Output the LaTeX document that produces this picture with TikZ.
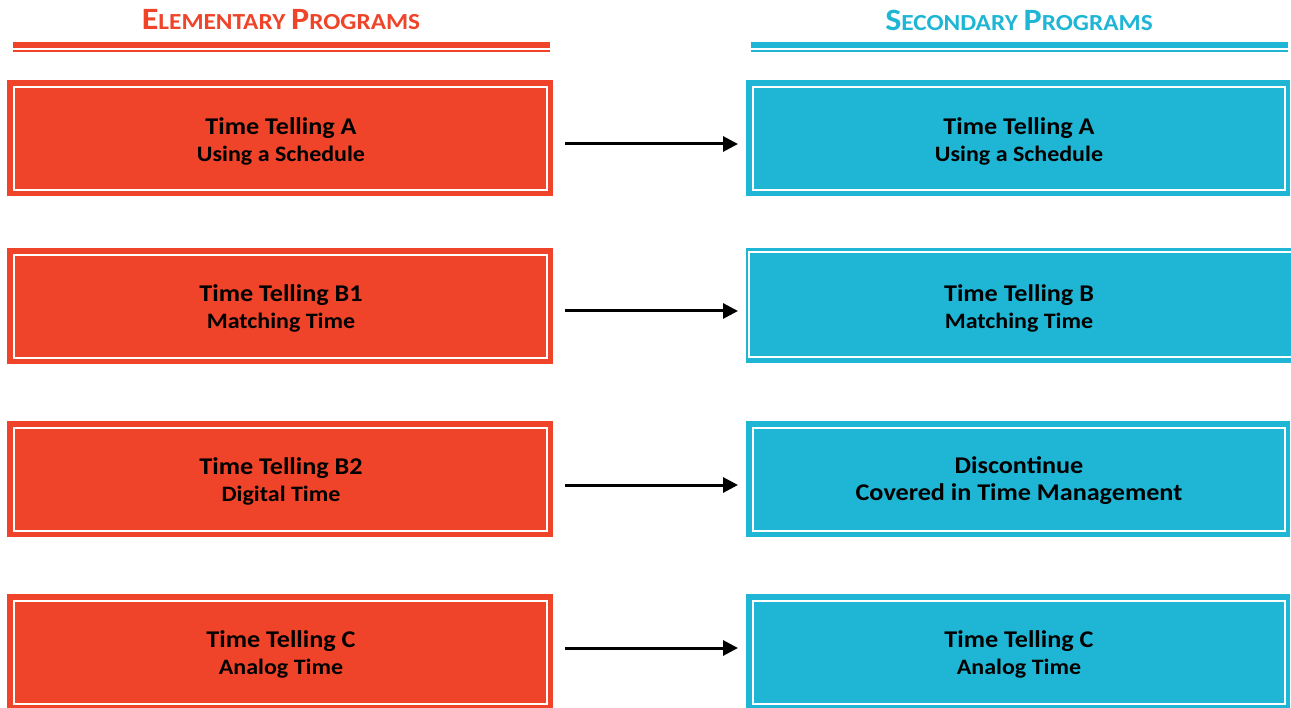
\documentclass[tikz,border=0pt]{standalone}
\usepackage{fontspec}
\setmainfont{Carlito}
\usetikzlibrary{arrows.meta}
\definecolor{elred}{HTML}{EF4429}
\definecolor{secblue}{HTML}{1FB6D6}
\tikzset{
  redbox/.style={fill=elred, draw=none},
  bluebox/.style={fill=secblue, draw=none},
  inner/.style={draw=white, line width=1.6pt},
  lbl/.style={align=center, font=\bfseries\fontsize{24}{27}\selectfont, text=black, inner sep=0pt},
  conn/.style={line width=3pt, -{Triangle[length=15pt,width=15pt]}},
  ttl/.style={font=\bfseries, inner sep=0pt},
}
\newcommand{\ta}[1]{\scalebox{1.09}[1]{\fontsize{24}{27}\selectfont #1}}
\newcommand{\tb}[1]{\scalebox{1.09}[1]{\fontsize{22}{27}\selectfont #1}}
\newcommand{\bigc}[1]{{\fontsize{31}{31}\selectfont #1}}
\newcommand{\smc}[1]{{\fontsize{23}{31}\selectfont #1}}
\newcommand{\ttlx}[1]{\scalebox{1.1}[1]{#1}}
\begin{document}
\begin{tikzpicture}[x=1pt,y=-1pt]
\useasboundingbox (0,0) rectangle (1291,708);
% titles
\node[ttl, text=elred] (tl) at (281,20) {\ttlx{\bigc{E}\smc{LEMENTARY }\bigc{P}\smc{ROGRAMS}}};
\node[ttl, text=secblue] (tr) at (1019,20) {\ttlx{\bigc{S}\smc{ECONDARY }\bigc{P}\smc{ROGRAMS}}};
\fill[elred] (13,42) rectangle (550,48);
\fill[elred] (13,50.5) rectangle (550,52.5);
\fill[secblue] (751,42) rectangle (1288,48);
\fill[secblue] (751,50.5) rectangle (1288,52.5);
% left boxes
\foreach \t/\n in {80/1,248/2,421/3,594/4}{
  \fill[redbox] (7,\t) rectangle (553,\t+116);
  \draw[inner] (14,\t+7) rectangle (547,\t+110);
}
% right boxes
\foreach \t/\n in {80/1,421/3,594/4}{
  \fill[bluebox] (746,\t) rectangle (1290,\t+116);
  \draw[inner] (753,\t+7) rectangle (1285,\t+110);
}
\fill[bluebox] (746,248) rectangle (1297,363);
\draw[inner] (749,252) rectangle (1300,357);
% labels
\node[lbl] (l1) at (281,141) {\ta{Time Telling A}\\\tb{Using a Schedule}};
\node[lbl] (l2) at (281,308) {\ta{Time Telling B1}\\\tb{Matching Time}};
\node[lbl] (l3) at (281,481) {\ta{Time Telling B2}\\\tb{Digital Time}};
\node[lbl] (l4) at (281,654.5) {\ta{Time Telling C}\\\tb{Analog Time}};
\node[lbl] (r1) at (1019,141) {\ta{Time Telling A}\\\tb{Using a Schedule}};
\node[lbl] (r2) at (1019,308) {\ta{Time Telling B}\\\tb{Matching Time}};
\node[lbl] (r3) at (1019,481) {\ta{Discontinue}\\\ta{Covered in Time Management}};
\node[lbl] (r4) at (1019,654.5) {\ta{Time Telling C}\\\tb{Analog Time}};
% arrows
\coordinate (a1s) at (565,144); \coordinate (a1e) at (738,144);
\coordinate (a2s) at (565,311); \coordinate (a2e) at (738,311);
\coordinate (a3s) at (565,485); \coordinate (a3e) at (738,485);
\coordinate (a4s) at (565,648); \coordinate (a4e) at (738,648);
\draw[conn] (a1s) -- (a1e);
\draw[conn] (a2s) -- (a2e);
\draw[conn] (a3s) -- (a3e);
\draw[conn] (a4s) -- (a4e);
\end{tikzpicture}
\end{document}
